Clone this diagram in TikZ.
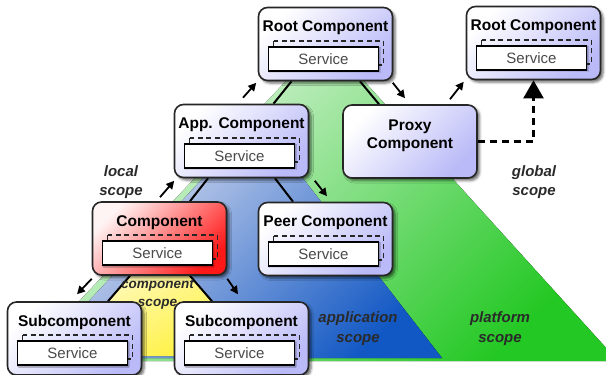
\documentclass[tikz,border=0pt]{standalone}
\usepackage{fontspec}
\setmainfont{Liberation Sans}
\usetikzlibrary{arrows.meta,shadows.blur,calc}
\pgfdeclarelayer{regions}
\pgfdeclarelayer{links}
\pgfsetlayers{regions,links,main}

\definecolor{boxline}{HTML}{262626}
\definecolor{lavender}{RGB}{186,186,248}
\definecolor{redlight}{RGB}{255,244,244}
\definecolor{reddeep}{RGB}{255,24,24}
\definecolor{svcgray}{HTML}{4A4A4A}
\definecolor{labelgray}{HTML}{2A2A2A}
\definecolor{greenpale}{RGB}{228,246,228}
\definecolor{greenmid}{RGB}{160,226,160}
\definecolor{greendeep}{RGB}{36,200,36}
\definecolor{bluepale}{RGB}{212,218,238}
\definecolor{bluemid}{RGB}{152,172,220}
\definecolor{bluedeep}{RGB}{18,88,196}
\definecolor{yellowpale}{RGB}{255,250,190}
\definecolor{yellowdeep}{RGB}{255,240,50}

\tikzset{
  compbox/.style={draw=boxline, line width=1.6pt, rounded corners=9pt,
    minimum width=134pt, minimum height=73pt, inner sep=0pt,
    top color=white, bottom color=lavender, shading angle=45,
    blur shadow={shadow xshift=2.5pt, shadow yshift=-2.5pt,
      shadow blur radius=2.5pt, shadow opacity=60}},
  hotbox/.style={compbox, top color=redlight, bottom color=reddeep, shading angle=45},
  boxtitle/.style={font=\bfseries\fontsize{15.5}{18}\selectfont, text=black, inner sep=0pt},
  svcbox/.style={draw=black, line width=1.6pt, fill=white,
    minimum width=110pt, minimum height=24pt, inner sep=0pt,
    font=\fontsize{15}{18}\selectfont, text=svcgray,
    blur shadow={shadow xshift=1.2pt, shadow yshift=-1.2pt,
      shadow blur radius=1pt, shadow opacity=40}},
  ghost/.style={draw=boxline, line width=1.8pt, dash pattern=on 5pt off 3.5pt},
  link/.style={line width=2pt, draw=black},
  arr/.style={line width=1.8pt, draw=black, -{Triangle[length=8pt,width=8pt]}},
  dashlink/.style={line width=2.2pt, draw=black, dash pattern=on 7pt off 5pt,
    -{Triangle[length=18pt,width=20pt]}},
  scopelbl/.style={font=\bfseries\itshape\fontsize{15}{19.5}\selectfont, align=center,
    text=labelgray, inner sep=0pt},
}

% a component box with its title and its Service part
\newcommand\compunit[4]{%
  \node[#3] (#1) at (#2) {};
  \draw[ghost] ($(#1.north)+(-52,34)$) rectangle ($(#1.north)+(58,58)$);
  \node[svcbox] (#1-svc) at ($(#1.north)+(-2,52)$) {Service};
  \node[boxtitle] (#1-title) at ($(#1.north)+(0,21)$) {#4};
}

\begin{document}
\begin{tikzpicture}[x=1pt,y=-1pt]
\useasboundingbox (0,0) rectangle (606,375);

% components
\compunit{rootA}{325.5,44}{compbox}{Root Component}
\compunit{rootB}{533.5,43}{compbox}{Root Component}
\compunit{app}{241.5,141}{compbox}{App. Component}
\compunit{comp}{159.5,238.5}{hotbox}{Component}
\compunit{peer}{325.5,239}{compbox}{Peer Component}
\compunit{subL}{74.5,338.5}{compbox}{Subcomponent}
\compunit{subR}{241.5,338.5}{compbox}{Subcomponent}
\node[compbox] (proxy) at (410,141.5) {};
\node[boxtitle, align=center] (proxy-title) at (410,136) {Proxy\\Component};

% scope areas
\begin{pgfonlayer}{regions}
  \begin{scope}
    \clip (0,0) rectangle (606,375);
    \fill[top color=greenpale, middle color=greenmid, bottom color=greendeep, shading angle=45]
      (286,81) -- (364,81) -- (618,361) -- (23,361) -- cycle;
    \fill[top color=bluepale, middle color=bluemid, bottom color=bluedeep, shading angle=45]
      (204,177) -- (302,177) -- (442,358) -- (36,358) -- cycle;
    \fill[top color=yellowpale, bottom color=yellowdeep, shading angle=30]
      (130,275) -- (190,275) -- (253,356) -- (67,356) -- cycle;
  \end{scope}
\end{pgfonlayer}

% hierarchy links
\begin{pgfonlayer}{links}
  \draw[link] ([xshift=-34pt]rootA.south) -- ([xshift=32pt]app.north);
  \draw[link] ([xshift=34.5pt]rootA.south) -- ([xshift=-31pt]proxy.north);
  \draw[link] ([xshift=-33.5pt]app.south) -- ([xshift=30.5pt]comp.north);
  \draw[link] ([xshift=33.5pt]app.south) -- ([xshift=-32.5pt]peer.north);
  \draw[link] ([xshift=-29.5pt]comp.south) -- ([xshift=33.5pt]subL.north);
  \draw[link] ([xshift=30.5pt]comp.south) -- ([xshift=-29.5pt]subR.north);
\end{pgfonlayer}

% lookup arrows
\draw[arr] ([shift={(1.5pt,6pt)}]app.north) -- ([shift={(-1.5pt,-1.5pt)}]rootA.south west);
\draw[arr] ([shift={(-0.5pt,-1.5pt)}]rootA.south east) -- ([shift={(-5pt,6pt)}]proxy.north);
\draw[arr] ([shift={(40pt,5pt)}]proxy.north) -- ([shift={(-2pt,-1.5pt)}]rootB.south west);
\draw[arr] ([shift={(0.5pt,4pt)}]comp.north) -- ([shift={(0.5pt,-2.5pt)}]app.south west);
\draw[arr] ([shift={(5.5pt,-2.5pt)}]app.south east) -- ([shift={(1.5pt,5.5pt)}]peer.north);
\draw[arr] ([shift={(0pt,-3pt)}]comp.south west) -- ([shift={(2.5pt,7pt)}]subL.north);
\draw[arr] ([shift={(0pt,-3pt)}]comp.south east) -- ([shift={(-3.5pt,7pt)}]subR.north);
\draw[dashlink] (proxy.east) -| (rootB.south);

% scope labels
\node[scopelbl] (lbl-local) at (121,182) {local\\scope};
\node[scopelbl] (lbl-global) at (534,182) {global\\scope};
\node[scopelbl] (lbl-app) at (358,328.5) {application\\scope};
\node[scopelbl] (lbl-platform) at (500,328.5) {platform\\scope};
\node[scopelbl, font=\bfseries\itshape\fontsize{13.5}{18}\selectfont] (lbl-comp) at (157.5,294) {component\\scope};
\end{tikzpicture}
\end{document}
